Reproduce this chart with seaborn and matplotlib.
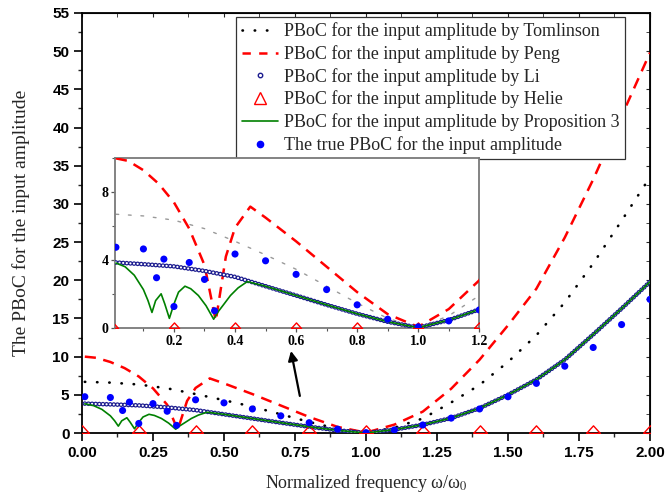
import matplotlib
matplotlib.use("Agg")
import matplotlib.pyplot as plt
from matplotlib.lines import Line2D
from matplotlib.ticker import MultipleLocator
import numpy as np
import seaborn as sns

# ---- data ----
x_tom = [0.01, 0.1, 0.2, 0.3, 0.4, 0.5, 0.6, 0.7, 0.8, 0.9, 1.0, 1.1, 1.2, 1.3, 1.4, 1.5, 1.6, 1.7, 1.8, 1.9, 2.0]
y_tom = [6.7, 6.6, 6.35, 5.85, 5.1, 4.3, 3.45, 2.45, 1.45, 0.55, 0.0, 0.7, 1.9, 4.0, 6.3, 9.3, 12.8, 17.1, 22.2, 27.8, 33.5]

x_peng = [0.01, 0.05, 0.1, 0.15, 0.2, 0.25, 0.3, 0.337, 0.37, 0.4, 0.45, 0.5, 0.6, 0.7, 0.8, 0.9, 1.0,
          1.1, 1.2, 1.3, 1.4, 1.5, 1.6, 1.7, 1.8, 1.9, 2.0]
y_peng = [10.0, 9.85, 9.3, 8.5, 7.4, 5.85, 3.7, 0.4, 4.2, 5.9, 7.15, 6.5, 5.1, 3.6, 2.1, 0.8, 0.05,
          1.1, 2.8, 5.8, 9.6, 14.1, 18.9, 25.6, 33.2, 41.5, 49.8]

x_li = [0.01, 0.1, 0.2, 0.3, 0.4, 0.5, 0.6, 0.7, 0.8, 0.9, 1.0, 1.1, 1.2, 1.3, 1.4, 1.5, 1.6, 1.7, 1.8, 1.9, 2.0]
y_li = [3.85, 3.75, 3.62, 3.35, 3.0, 2.45, 1.9, 1.35, 0.82, 0.35, 0.0, 0.45, 1.08, 1.95, 3.25, 5.0, 7.0, 9.6, 12.9, 16.3, 19.8]

x_helie = [0.0, 0.2, 0.4, 0.6, 0.8, 1.0, 1.2, 1.4, 1.6, 1.8, 2.0]
y_helie = [0.0, 0.0, 0.0, 0.0, 0.0, 0.0, 0.0, 0.0, 0.0, 0.0, 0.0]

x_prop = [0.01, 0.04, 0.07, 0.1, 0.115, 0.128, 0.14, 0.158, 0.17, 0.185, 0.2, 0.215, 0.236, 0.255, 0.28,
          0.305, 0.33, 0.345, 0.362, 0.385, 0.41, 0.44, 0.5, 0.6, 0.7, 0.8, 0.9, 1.0, 1.1, 1.2, 1.3,
          1.4, 1.5, 1.6, 1.7, 1.8, 1.9, 2.0]
y_prop = [3.82, 3.6, 3.1, 2.25, 1.6, 0.9, 1.6, 2.0, 1.4, 0.55, 1.4, 2.1, 2.45, 2.3, 1.9,
          1.3, 0.5, 0.95, 1.35, 1.9, 2.35, 2.72, 2.45, 1.9, 1.35, 0.82, 0.35, 0.0, 0.45, 1.08, 1.95,
          3.25, 5.0, 7.0, 9.6, 12.9, 16.3, 19.8]

x_true = [0.01, 0.1, 0.143, 0.167, 0.2, 0.25, 0.3, 0.333, 0.4, 0.5, 0.6, 0.7, 0.8, 0.9, 1.0,
          1.1, 1.2, 1.3, 1.4, 1.5, 1.6, 1.7, 1.8, 1.9, 2.0]
y_true = [4.75, 4.65, 2.95, 4.05, 1.25, 3.85, 2.85, 1.0, 4.35, 3.95, 3.15, 2.25, 1.35, 0.5, 0.05,
          0.4, 1.05, 1.95, 3.15, 4.75, 6.5, 8.75, 11.2, 14.2, 17.5]

labels = ["PBoC for the input amplitude by Tomlinson",
          "PBoC for the input amplitude by Peng",
          "PBoC for the input amplitude by Li",
          "PBoC for the input amplitude by Helie",
          "PBoC for the input amplitude by Proposition 3",
          "The true PBoC for the input amplitude"]

main_xticks = [0.0, 0.25, 0.5, 0.75, 1.0, 1.25, 1.5, 1.75, 2.0]
main_xlabels = ["0.00", "0.25", "0.50", "0.75", "1.00", "1.25", "1.50", "1.75", "2.00"]
main_yticks = [0, 5, 10, 15, 20, 25, 30, 35, 40, 45, 50, 55]
inset_xticks = [0.2, 0.4, 0.6, 0.8, 1.0, 1.2]
inset_xlabels = ["0.2", "0.4", "0.6", "0.8", "1.0", "1.2"]
inset_yticks = [0, 4, 8]

# ---- style ----
sns.set_style("ticks")
plt.rcParams["font.family"] = ["Liberation Serif", "DejaVu Serif"]
plt.rcParams["mathtext.fontset"] = "stix"
plt.rcParams["lines.scale_dashes"] = False

tri_base = [(-1, 0), (1, 0), (0, 1.1), (-1, 0)]  # triangle sitting on its base
LI_COL = "#1c1c8f"


def draw_series(ax, small):
    tom_col = "#9a9a9a" if small else "black"
    tom_ls = (0, (2, 7)) if small else (0, (0.3, 8.5))
    sns.lineplot(x=x_tom, y=y_tom, ax=ax, color=tom_col, lw=1.0 if small else 1.9,
                 linestyle=tom_ls, dash_capstyle="round", zorder=2)
    sns.lineplot(x=x_peng, y=y_peng, ax=ax, color="red", lw=1.8,
                 linestyle=(0, (8, 5.5)), zorder=3)
    # chain of small open circles for Li
    sns.lineplot(x=x_li, y=y_li, ax=ax, color=LI_COL, lw=3.4,
                 linestyle=(0, (0.01, 2.6)), dash_capstyle="round", zorder=4)
    sns.lineplot(x=x_li, y=y_li, ax=ax, color="white", lw=1.6,
                 linestyle=(0, (0.01, 2.6)), dash_capstyle="round", zorder=4)
    sns.lineplot(x=x_helie, y=y_helie, ax=ax, color="red", linestyle="none",
                 marker=tri_base, ms=8 if small else 11, mfc="none", mec="red", mew=1.0, zorder=5)
    sns.lineplot(x=x_prop, y=y_prop, ax=ax, color="#008000", lw=1.2, zorder=6)
    sns.scatterplot(x=x_true, y=y_true, ax=ax, color="#0000ff", s=26,
                    edgecolor="none", linewidth=0, zorder=7)


fig = plt.figure(figsize=(6.67, 4.98), dpi=100)
ax = fig.add_axes([0.1229, 0.1305, 0.8516, 0.8434])
draw_series(ax, small=False)

ax.set_xlim(0, 2.0)
ax.set_ylim(0, 55)
ax.set_xticks(main_xticks)
ax.set_xticklabels(main_xlabels, fontfamily="Liberation Sans", fontweight="bold", fontsize=11)
ax.set_yticks(main_yticks)
ax.set_yticklabels([str(v) for v in main_yticks], fontfamily="Liberation Sans",
                   fontweight="bold", fontsize=11)
ax.xaxis.set_minor_locator(MultipleLocator(0.125))
ax.yaxis.set_minor_locator(MultipleLocator(2.5))
ax.tick_params(which="major", direction="out", length=6, width=1.2, colors="black", pad=3)
ax.tick_params(which="minor", direction="out", length=3, width=1.0)
for s in ax.spines.values():
    s.set_linewidth(1.3)
    s.set_color("black")

# inward ticks on top and right
top = ax.secondary_xaxis("top")
top.set_xticks(main_xticks)
top.xaxis.set_minor_locator(MultipleLocator(0.125))
top.tick_params(which="both", direction="in", labeltop=False, length=3)
right = ax.secondary_yaxis("right")
right.set_yticks(main_yticks)
right.yaxis.set_minor_locator(MultipleLocator(2.5))
right.tick_params(which="both", direction="in", labelright=False, length=3)

ax.set_xlabel(r"Normalized frequency ω/ω$_0$", fontsize=13, labelpad=9)
ax.set_ylabel("The PBoC for the input amplitude", fontsize=14, labelpad=16)

handles = [
    Line2D([], [], color="black", lw=1.9, linestyle=(0, (0.3, 8.5)), dash_capstyle="round"),
    Line2D([], [], color="red", lw=1.8, linestyle=(0, (6, 6))),
    Line2D([], [], color="none", marker="o", ms=3.2, mfc="white", mec=LI_COL, mew=1.0),
    Line2D([], [], color="none", marker="^", ms=8.5, mfc="none", mec="red", mew=1.0),
    Line2D([], [], color="#008000", lw=1.2),
    Line2D([], [], color="none", marker="o", ms=4.5, mfc="#0000ff", mec="#0000ff"),
]
leg = ax.legend(handles, labels, loc="upper right", bbox_to_anchor=(0.956, 0.991),
                borderaxespad=0, fontsize=13, frameon=True, fancybox=False,
                handlelength=2.0, handletextpad=0.35, labelspacing=0.27, borderpad=0.3)
leg.get_frame().set_edgecolor("#333333")
leg.get_frame().set_linewidth(0.9)
leg.get_frame().set_alpha(1)

ax.annotate("", xy=(0.734, 11.1), xytext=(0.769, 4.5),
            arrowprops=dict(arrowstyle="-|>", color="black", lw=1.6, mutation_scale=14))

# ---- inset ----
ax_in = fig.add_axes([0.1729, 0.342, 0.5457, 0.340])
draw_series(ax_in, small=True)
ax_in.set_xlim(0.008, 1.2)
ax_in.set_ylim(0, 10)
ax_in.set_xticks(inset_xticks)
ax_in.set_xticklabels(inset_xlabels, fontweight="bold", fontsize=10)
ax_in.set_yticks(inset_yticks)
ax_in.set_yticklabels([str(v) for v in inset_yticks], fontweight="bold", fontsize=10)
ax_in.xaxis.set_minor_locator(MultipleLocator(0.1))
ax_in.yaxis.set_minor_locator(MultipleLocator(2))
ax_in.tick_params(which="major", direction="out", length=3, width=0.9, colors="#555555",
                  labelcolor="black", pad=2)
ax_in.tick_params(which="minor", direction="out", length=2, width=0.8, colors="#555555")
ax_in.set_xlabel("")
ax_in.set_ylabel("")
for s in ax_in.spines.values():
    s.set_linewidth(1.3)
    s.set_color("#7a7a7a")

fig.savefig("out.png", dpi=100)
